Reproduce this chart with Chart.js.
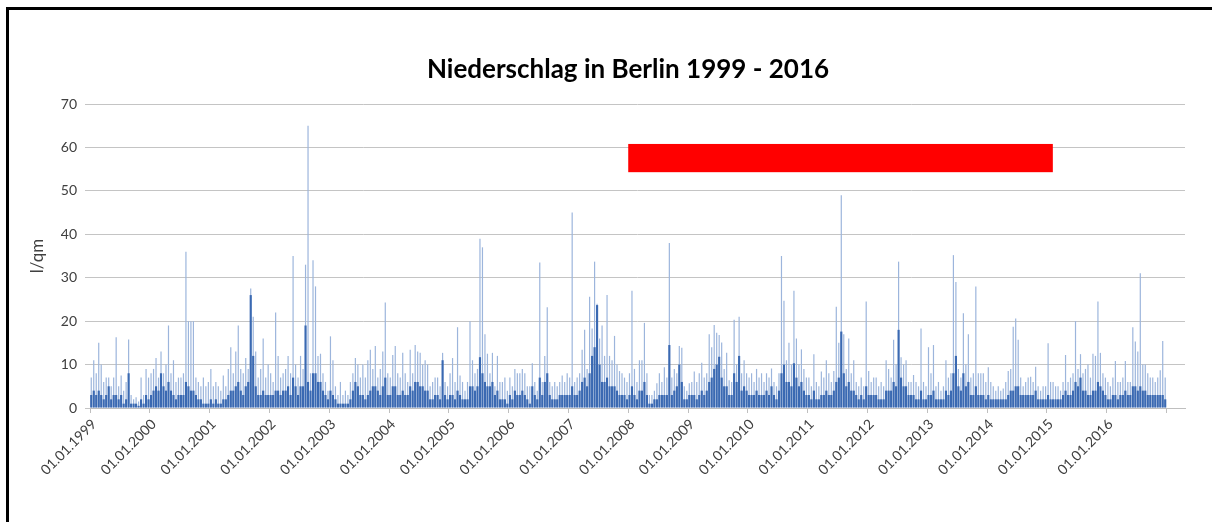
<!DOCTYPE html>
<html><head><meta charset="utf-8">
<script src="https://cdn.jsdelivr.net/npm/chart.js@4.4.0/dist/chart.umd.min.js"></script>
<style>
html,body{margin:0;padding:0;background:#fff;}
#wrap{position:relative;width:1212px;height:522px;overflow:hidden;background:#fff;}
#frameTop{position:absolute;left:6px;top:7px;width:1206px;height:3px;background:#000;}
#frameLeft{position:absolute;left:6px;top:7px;width:3px;height:515px;background:#000;}
canvas{position:absolute;left:0;top:0;}
</style></head><body>
<div id="wrap"><canvas id="c" width="1212" height="522"></canvas><div id="frameTop"></div><div id="frameLeft"></div></div>
<script>
const chartTitle = 'Niederschlag in Berlin 1999 - 2016';
const yAxisTitle = 'l/qm';
const years = [1999,2000,2001,2002,2003,2004,2005,2006,2007,2008,2009,2010,2011,2012,2013,2014,2015,2016];
const tickYears = [1999,2000,2001,2002,2003,2004,2005,2006,2007,2008,2009,2010,2011,2012,2013,2014,2015,2016,2017];
const binsPerYear = 24; // half-month bins
const xRange = [1999, 2017.31];
const markerYears = [2008.0, 2015.1];
const markerValues = [54.3, 60.8];

// highest daily value (l/qm) within each half-month bin, one row per year
const peakValues = [
  7,11,8,15,10,6,7,7,5,7,16.3,5,7.5,4,6,15.8,3,2,2.5,1.5,7,3,9,7,
  8,9,11.5,7,13,8,10,19,8,11,6,7,7,8,36,20,20,20,7,6,5,7,5,6,
  9,5,6,5,4,7.5,5,9,14,8,13,19,9,8,11.5,9,27.5,21,13,7,9,16,7,10,
  8,6,22,12,7,8,9,12,8,35,10,7,12,9,33,65,8,34,28,12,12.5,8,6,4,
  16.5,11,5,3,6,3,4,3,6,8,11.5,10,7,10,7,11,13.4,9,14.3,7,9,13,24.3,8,
  7,12.2,14.3,8,7,12.7,8,6,13.4,8,14.5,13,12.7,10,11,10,5,6,7,7,5,12.7,6,5,
  8,11.5,6,18.6,7.5,6,4,6,20,11,8,9,39,37,17,12.5,8,12.7,5,12,6,6,7,4,
  7,5,9,8,8,9,8,5,5,10.3,6,4,33.5,6,12,23.2,6,5,6,5,6,7.5,6,8,
  7,45,6,7,8,13.4,18,9,25.6,18.3,33.7,24,16,19,12,26,12,11,16.6,10,8.5,8,7,6,
  8,27,9,6,11,11,19.6,8,3,3,4,5.7,8,6,9.4,7,38,7,9,8,14.3,13.9,5,4,
  5.7,6,8.4,6,8,10.4,7,8,17,14,19.1,17.3,16.8,15.1,9,12.7,6.4,6,20.3,10,21,8,11,8,
  7,8,6,9,7,8,6,8,7,9.1,6,5,8,35,24.7,11,15,10,27,16,10,13.5,9,7,
  7,5,12.4,6,5,8.4,7,11,8,6,8.5,23.3,15,49,17,9,16,8,11,6,5,7,5,24.5,
  8.5,6,7,7,5,6,5,11,9,7,15.7,10,33.7,11.7,10,11,6,6,7.6,6,5,18.3,6,5,
  14,8,14.5,5,6,4,5,11,7,8,35.2,29,9,7,21.8,10,17,7,8,28,8,8,8,6,
  9.4,6,5,4,5,4,4.5,6,8.5,9,18.7,20.6,15.7,7,5,6,7,7.2,6,9.5,5,4,5,5,
  14.9,6,6,5,5,4,6,12.2,6,7,8,20,9,12.4,8,9,10,7,12.5,12,24.5,12.7,8,7,
  6,5,7,10.8,6,6,7,10.8,6,6,18.6,15.3,13,31,10,10,8,7,7,6,7,8.7,15.4,7
];

// typical (dense) daily level within each half-month bin
const baseValues = [
  3,4,3,4,3,2,3,5,2,3,3,2,3,1,2,8,1,1,1,0.5,2,1,3,2,
  3,4,5,4,8,5,4,6,4,3,2,3,3,3,6,5,4,4,3,2,2,1,1,1,
  2,1,2,1,1,2,2,3,4,4,5,6,4,3,5,6,26,12,5,3,3,4,3,3,
  3,3,4,4,3,4,4,5,3,7,5,3,5,5,19,6,4,8,8,6,6,4,3,2,
  4,3,2,1,1,1,1,1,2,4,6,5,3,3,2,3,4,5,5,4,3,5,7,3,
  3,5,5,3,3,4,3,3,5,4,6,6,5,5,4,4,2,2,3,3,2,11,3,2,
  3,3,2,4,3,2,2,2,5,5,4,5,11.7,8,6,5,5,6,3,4,2,2,2,1,
  3,2,4,3,3,4,3,2,1,5,3,2,7,3,6,8,3,2,2,2,3,3,3,3,
  3,5,3,3,4,6,7,5,8,12,14,23.7,10,6,6,7,5,5,5,4,3,3,3,2,
  3,5,3,2,4,4,6,3,1,1,2,2,3,3,3,3,14.5,3,4,5,10,6,2,2,
  3,3,3,2,3,4,3,4,6,7,9,10,11.8,7,5,5,3,3,8,6,12,4,5,4,
  3,3,3,4,3,3,3,4,3,5,3,2,4,8,10,6,6,5,10.3,7,5,6,4,3,
  3,2,4,2,2,3,3,4,3,3,4,6,7,17.6,8,5,6,4,4,3,2,3,2,5,
  3,3,3,3,2,2,2,4,4,4,6,5,18,7,5,5,3,3,3,2,2,4,2,2,
  3,3,4,2,2,2,2,4,3,4,8,12,5,4,8,5,6,3,3,5,3,3,3,2,
  3,2,2,2,2,2,2,2,3,4,4,5,5,3,3,3,3,3,3,4,2,2,2,2,
  3,2,2,2,2,2,3,4,3,3,4,6,5,7,4,4,3,3,4,4,6,5,4,3,
  2,2,3,3,2,3,3,4,3,3,5,5,4,5,4,4,3,3,3,3,3,3,3,2
];

function binX(i){ return years[0] + (i + 0.5) / binsPerYear; }
const peakData = peakValues.map((v,i)=>({x: binX(i), y: v}));
const baseData = baseValues.map((v,i)=>({x: binX(i), y: v}));

const font = 'Lato';

const markerPlugin = {
  id: 'marker',
  afterDatasetsDraw(chart){
    const {ctx, scales:{x, y}} = chart;
    const x0 = x.getPixelForValue(markerYears[0]);
    const x1 = x.getPixelForValue(markerYears[1]);
    const y0 = y.getPixelForValue(markerValues[1]);
    const y1 = y.getPixelForValue(markerValues[0]);
    ctx.save();
    ctx.fillStyle = '#ff0000';
    ctx.fillRect(x0, y0, x1 - x0, y1 - y0);
    ctx.restore();
  }
};

const titlePlugin = {
  id: 'sheetTitle',
  afterDraw(chart){
    const ctx = chart.ctx;
    ctx.save();
    ctx.font = 'bold 26px ' + font;
    ctx.fillStyle = '#000';
    ctx.textAlign = 'center';
    ctx.textBaseline = 'middle';
    ctx.fillText(chartTitle, 628, 70);
    ctx.restore();
  }
};

new Chart(document.getElementById('c').getContext('2d'), {
  type: 'bar',
  data: { datasets: [
    { label: 'Basis', data: baseData, backgroundColor: '#3a69b2', barPercentage: 0.86, categoryPercentage: 1, grouped: false, order: 0 },
    { label: 'Spitzen', data: peakData, backgroundColor: '#9cb5dc', barPercentage: 0.48, categoryPercentage: 1, grouped: false, order: 1 }
  ]},
  options: {
    responsive: false,
    animation: false,
    layout: { padding: { left: 10, right: 27, top: 104, bottom: 14 } },
    plugins: {
      legend: { display: false },
      tooltip: { enabled: false },
      title: { display: false }
    },
    scales: {
      x: {
        type: 'linear', min: xRange[0], max: xRange[1], offset: false,
        grid: { offset: false, drawOnChartArea: false, drawTicks: true, tickLength: 5, color: '#bfbfbf' },
        border: { display: true, color: '#bfbfbf' },
        afterBuildTicks: s => { s.ticks = tickYears.map(v => ({ value: v })); },
        ticks: { autoSkip: false, maxRotation: 45, minRotation: 45, padding: 3, labelOffset: 4, color: '#404040', font: { family: font, size: 14 },
          callback: v => (years.includes(v) ? '01.01.' + v : '') },
        afterFit: s => { s.height = 100; }
      },
      y: {
        min: 0, max: 70,
        ticks: { stepSize: 10, padding: 8, color: '#404040', font: { family: font, size: 14 } },
        grid: { color: '#c4c4c4', tickLength: 5 },
        border: { display: false },
        title: { display: true, text: yAxisTitle, color: '#404040', font: { family: font, size: 17 }, padding: { top: 17, bottom: 0 } },
        afterFit: s => { s.width = 80; }
      }
    }
  },
  plugins: [markerPlugin, titlePlugin]
});
</script>
</body></html>
